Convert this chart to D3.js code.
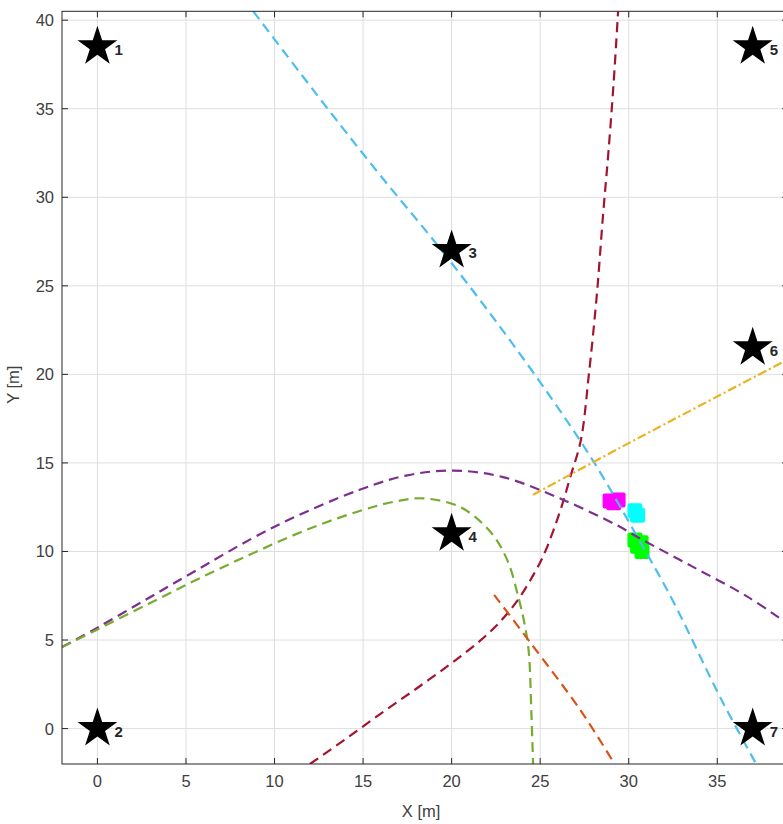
<!DOCTYPE html>
<html><head><meta charset="utf-8">
<script src="https://cdn.jsdelivr.net/npm/d3@7"></script>
<style>body{margin:0;background:#fff}svg{display:block}</style>
</head><body>
<svg id="c" width="783" height="824"></svg>
<script>
// ---- data ----
const xTicks = [0,5,10,15,20,25,30,35];
const yTicks = [0,5,10,15,20,25,30,35,40];
const anchorIds = ["1","2","3","4","5","6","7"];
const anchorX = [0, 0, 20, 20, 37, 37, 37];
const anchorY = [38.5, 0, 27, 11, 38.5, 21.5, 0];

const curveCyan = [[8.8,40.5],[13,35],[16,31.2],[19.2,27.3],[22.5,23],[25.6,18.7],[28,15.1],[30.5,10.8],[32.5,7.2],[35.2,1.7],[37.2,-2]];
const curveRed = [[12,-2],[14,-0.6],[16,0.85],[18,2.25],[20,3.7],[21.6,4.95],[22.8,6.1],[23.8,7.35],[24.6,8.65],[25.2,9.8],[26.1,12.2],[26.7,14.2],[27.3,16.3],[27.75,20],[28.2,24.5],[28.55,29],[28.85,32.5],[29.15,36.5],[29.4,40.5]];
const curvePurple = [[-2,4.6],[0,5.7],[2.6,7.2],[5,8.6],[10,11.4],[14.85,13.5],[17.5,14.3],[20.1,14.57],[22.9,14.2],[26.1,13.0],[29.3,11.5],[30.7,10.7],[33.5,9.2],[36.7,7.45],[39,5.9]];
const curveGreen = [[-2,4.6],[0,5.6],[3,7.1],[6,8.6],[9,10.0],[12,11.3],[14.85,12.3],[16.7,12.8],[18.4,13.0],[20.5,12.5],[22.2,11.1],[23.15,9.5],[23.8,7.3],[24.1,6.0],[24.35,4.4],[24.5,1.0],[24.6,-2]];
const curveOrange = [[22.4,7.55],[24.45,4.85],[27.3,1.0],[29.2,-2]];
const curveYellow = [[24.6,13.2],[29.5,15.85],[39,20.85]];

const magentaPts = [[28.95,12.85],[29.4,12.9],[29.15,12.75]];
const cyanPts = [[30.35,12.3],[30.5,12.05]];
const greenPts = [[30.35,10.65],[30.75,10.0],[30.5,10.3],[30.7,10.5]];

// ---- layout ----
const svg = d3.select("#c");
const L = 62, T = 11.3, B = 764, unit = 17.71;
const x = d3.scaleLinear().domain([-2, 39]).range([L, L + 41*unit]);
const y = d3.scaleLinear().domain([-2, 40.5]).range([B, B - 42.5*unit]);
const R = x.range()[1];

svg.append("defs").append("clipPath").attr("id","clip")
  .append("rect").attr("x",L).attr("y",T).attr("width",R-L).attr("height",B-T);

// grid
const grid = svg.append("g");
grid.selectAll(".gx").data(xTicks).join("line")
  .attr("x1",d=>x(d)).attr("x2",d=>x(d)).attr("y1",T).attr("y2",B)
  .attr("stroke","#dedede").attr("stroke-width",1);
grid.selectAll(".gy").data(yTicks).join("line")
  .attr("y1",d=>y(d)).attr("y2",d=>y(d)).attr("x1",L).attr("x2",R)
  .attr("stroke","#dedede").attr("stroke-width",1);

const plot = svg.append("g").attr("clip-path","url(#clip)");

// markers
function squares(pts, color){
  plot.append("g").selectAll("rect").data(pts).join("rect")
    .attr("x",d=>x(d[0])-7.5).attr("y",d=>y(d[1])-7.5)
    .attr("width",15).attr("height",15).attr("rx",2).attr("fill",color);
}
squares(magentaPts,"#FF00FF");
squares(cyanPts,"#00FFFF");
squares(greenPts,"#00FF00");

const line = d3.line().x(d=>x(d[0])).y(d=>y(d[1])).curve(d3.curveCatmullRom);
function drawCurve(pts,color,dash){
  plot.append("path").datum(pts).attr("d",line)
    .attr("fill","none").attr("stroke",color).attr("stroke-width",2.2)
    .attr("stroke-dasharray",dash);
}
drawCurve(curveCyan,"#4DBEEE","10,6");
drawCurve(curveRed,"#A2142F","10,6");
drawCurve(curvePurple,"#7E2F8E","10,6");
drawCurve(curveGreen,"#77AC30","10,6");
drawCurve(curveOrange,"#D95319","10,6");
drawCurve(curveYellow,"#EDB120","9,3,2,3");

// anchors
const anchors = anchorIds.map((id,i)=>({id, x:anchorX[i], y:anchorY[i]}));
const star = d3.symbol().type(d3.symbolStar).size(495);
plot.selectAll(".star").data(anchors).join("path")
  .attr("d",star).attr("transform",d=>`translate(${x(d.x)},${y(d.y)})`)
  .attr("fill","#000");
plot.selectAll(".lab").data(anchors).join("text")
  .attr("x",d=>x(d.x)+17).attr("y",d=>y(d.y)+8)
  .attr("font-family","Liberation Sans, Arial, sans-serif")
  .attr("font-size",15).attr("font-weight","bold").attr("fill","#262626")
  .text(d=>d.id);

// axes frame
const ax = svg.append("g").attr("stroke","#262626").attr("stroke-width",1).attr("fill","none");
ax.append("rect").attr("x",L).attr("y",T).attr("width",R-L).attr("height",B-T);
const tl = 6;
xTicks.forEach(t=>{
  ax.append("line").attr("x1",x(t)).attr("x2",x(t)).attr("y1",B).attr("y2",B-tl);
  ax.append("line").attr("x1",x(t)).attr("x2",x(t)).attr("y1",T).attr("y2",T+tl);
});
yTicks.forEach(t=>{
  ax.append("line").attr("x1",L).attr("x2",L+tl).attr("y1",y(t)).attr("y2",y(t));
  ax.append("line").attr("x1",R).attr("x2",R-tl).attr("y1",y(t)).attr("y2",y(t));
});

const font = "Liberation Sans, Arial, Helvetica, sans-serif";
svg.append("g").selectAll("text").data(xTicks).join("text")
  .attr("x",d=>x(d)).attr("y",B+23).attr("text-anchor","middle")
  .attr("font-family",font).attr("font-size",16.5).attr("fill","#404040").text(d=>d);
svg.append("g").selectAll("text").data(yTicks).join("text")
  .attr("x",L-8).attr("y",d=>y(d)+6).attr("text-anchor","end")
  .attr("font-family",font).attr("font-size",16.5).attr("fill","#404040").text(d=>d);

svg.append("text").attr("x",(L+R)/2-4).attr("y",817).attr("text-anchor","middle")
  .attr("font-family",font).attr("font-size",16.5).attr("fill","#404040").text("X [m]");
svg.append("text").attr("transform",`translate(19,${(T+B)/2-3}) rotate(-90)`)
  .attr("text-anchor","middle")
  .attr("font-family",font).attr("font-size",16.5).attr("fill","#404040").text("Y [m]");
</script>
</body></html>
